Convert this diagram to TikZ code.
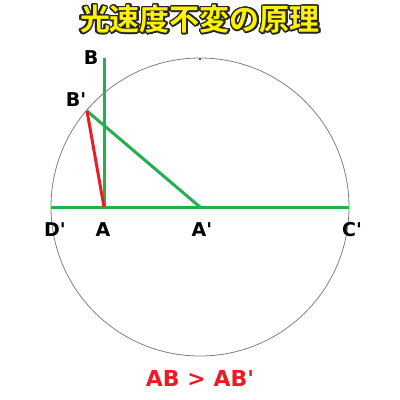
\documentclass[tikz,border=0pt]{standalone}
\usepackage{fontspec}
\setmainfont{DejaVu Sans}[Ligatures=TeXOff]
\newfontfamily\cjkfont{Noto Sans CJK JP}[BoldFont={* Bold}]
\usepackage{contour}
\contourlength{1.3pt}
\contournumber{32}
\definecolor{linegreen}{RGB}{34,177,76}
\definecolor{linered}{RGB}{237,28,36}
\definecolor{titleyellow}{RGB}{255,242,0}
\tikzset{
  seg/.style={linegreen, line width=3pt},
  lbl/.style={font=\fontsize{19}{19}\selectfont\bfseries, inner sep=0pt}
}
\begin{document}
\begin{tikzpicture}[x=1pt,y=-1pt]
\useasboundingbox (0,0) rectangle (400,400);
%\draw [lightgray](0,0) grid (400,400);
\coordinate (Ap) at (200,207);
\coordinate (A) at (104,207);
\coordinate (B) at (104,58);
\coordinate (Bp) at (87,111);
\coordinate (Dp) at (51,207);
\coordinate (Cp) at (349,207);

\draw [gray, line width=0.8pt] (Ap) circle (149);
\fill (200,59) circle (1);

\draw [seg] (Dp) -- (Cp);
\draw [seg] (A) -- (B);
\draw [seg] (Bp) -- (Ap);
\draw [linered, line width=3pt] (Bp) -- (A);

\node [lbl] (lB) at ( 91, 58){B};
\node [lbl] (lBp) at ( 76,100){B'};
\node [lbl] (lDp) at ( 55,230){D'};
\node [lbl] (lA) at (103,230){A};
\node [lbl] (lAp) at (202,230){A'};
\node [lbl] (lCp) at (352,230){C'};

\node (title) at (200,20){\fontsize{30}{30}\selectfont\cjkfont\bfseries\contour{black!85}{\textcolor{titleyellow}{光速度不変の原理}}};
\node [linered, font=\fontsize{22}{22}\selectfont\bfseries] (res) at (200,378){AB > AB'};
\end{tikzpicture}
\end{document}
